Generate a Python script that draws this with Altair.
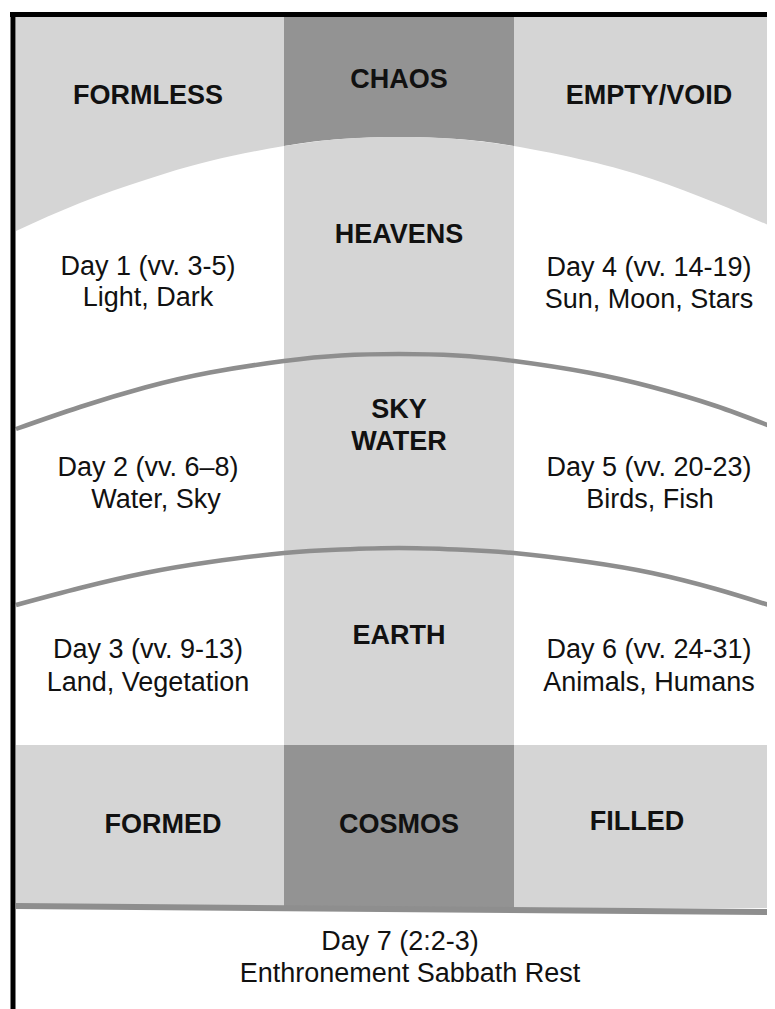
import altair as alt
import pandas as pd

# ---- data (pixel coordinates of the 775x1009 image) ----
ARC_X  = [16, 80, 145, 210, 284, 341, 399, 457, 514, 588, 652, 716, 775]
ARC1_Y = [231, 203, 180, 161, 146, 139, 137, 139, 146, 161, 179, 203, 228]
ARC2_Y = [429, 407, 387.5, 372.5, 361, 355.5, 354, 355.5, 361, 372.5, 387, 406, 428]
ARC3_Y = [605, 588, 573, 562, 553, 549.5, 548, 549.5, 553, 562, 573, 589, 607]

LIGHT = "#d5d5d5"
DARK = "#939393"
LINE = "#8e8e8e"

# blocks: x1, x2, y1, y2, colour
BLK_X1 = [16, 284, 16, 284]
BLK_X2 = [775, 514, 775, 514]
BLK_Y1 = [17, 17, 745, 745]
BLK_Y2 = [745, 200, 908, 908]
BLK_C = [LIGHT, DARK, LIGHT, DARK]

BOLD_LABELS = ["CHAOS", "FORMLESS", "EMPTY/VOID", "HEAVENS", "SKY", "WATER", "EARTH",
               "FORMED", "COSMOS", "FILLED"]
BOLD_X = [399, 148, 649, 399, 399, 399, 399, 163, 399, 637]
BOLD_Y = [78, 94, 94, 233, 408, 440, 634, 823, 823, 820]

REG_LABELS = ["Day 1 (vv. 3-5)", "Light, Dark", "Day 4 (vv. 14-19)", "Sun, Moon, Stars",
              "Day 2 (vv. 6\u20138)", "Water, Sky", "Day 5 (vv. 20-23)", "Birds, Fish",
              "Day 3 (vv. 9-13)", "Land, Vegetation", "Day 6 (vv. 24-31)", "Animals, Humans",
              "Day 7 (2:2-3)", "Enthronement Sabbath Rest"]
REG_X = [148, 148, 649, 649, 148, 156, 649, 650, 148, 148, 649, 649, 400, 410]
REG_Y = [265, 296, 266, 298, 466, 498, 466, 498, 648, 681, 648, 681, 940, 972]

# frame & bottom strip segments: x1, y1, x2, y2
SEG_X1 = [16, 13, 10]
SEG_Y1 = [906, 12, 14.5]
SEG_X2 = [775, 13, 775]
SEG_Y2 = [912, 1009, 14.5]
SEG_C = [LINE, "#000000", "#000000"]
SEG_W = [6, 5, 5]

# ---- build tables ----
xs = alt.Scale(domain=[8, 767], nice=False, zero=False)
ys = alt.Scale(domain=[8, 1009], reverse=True, nice=False, zero=False)

arcs = pd.DataFrame({"x": ARC_X, "a1": ARC1_Y, "a2": ARC2_Y, "a3": ARC3_Y, "bottom": 745})
col_arc = arcs[(arcs.x >= 284) & (arcs.x <= 514)]
blocks = pd.DataFrame({"x1": BLK_X1, "x2": BLK_X2, "y1": BLK_Y1, "y2": BLK_Y2, "c": BLK_C})
bold = pd.DataFrame({"t": BOLD_LABELS, "x": BOLD_X, "y": [v + 10 for v in BOLD_Y]})
reg = pd.DataFrame({"t": REG_LABELS, "x": REG_X, "y": [v + 10 for v in REG_Y]})
segs = pd.DataFrame({"x1": SEG_X1, "y1": SEG_Y1, "x2": SEG_X2, "y2": SEG_Y2, "c": SEG_C, "w": SEG_W})

X = lambda f: alt.X(f, type="quantitative", scale=xs, axis=None)
Y = lambda f: alt.Y(f, type="quantitative", scale=ys, axis=None)

top_blocks = alt.Chart(blocks.iloc[:2]).mark_rect(clip=True).encode(
    x=X("x1"), x2="x2", y=Y("y1"), y2="y2", color=alt.Color("c:N", scale=None))
white_area = alt.Chart(arcs).mark_area(color="white", interpolate="natural", clip=True).encode(
    x=X("x"), y=Y("a1"), y2="bottom")
col_area = alt.Chart(col_arc).mark_area(color=LIGHT, interpolate="natural", clip=True).encode(
    x=X("x"), y=Y("a1"), y2="bottom")
bot_blocks = alt.Chart(blocks.iloc[2:]).mark_rect(clip=True).encode(
    x=X("x1"), x2="x2", y=Y("y1"), y2="y2", color=alt.Color("c:N", scale=None))
arc2 = alt.Chart(arcs).mark_line(color=LINE, strokeWidth=4.5, interpolate="natural", clip=True).encode(
    x=X("x"), y=Y("a2"))
arc3 = alt.Chart(arcs).mark_line(color=LINE, strokeWidth=4.5, interpolate="natural", clip=True).encode(
    x=X("x"), y=Y("a3"))
seg = alt.Chart(segs).mark_rule(clip=True).encode(
    x=X("x1"), y=Y("y1"), x2="x2", y2="y2",
    color=alt.Color("c:N", scale=None), strokeWidth=alt.StrokeWidth("w:Q", scale=None))
bold_txt = alt.Chart(bold).mark_text(font="Liberation Sans", fontSize=27, fontWeight="bold",
                                     align="center", baseline="alphabetic", color="#111111").encode(
    x=X("x"), y=Y("y"), text="t:N")
reg_txt = alt.Chart(reg).mark_text(font="Liberation Sans", fontSize=27, fontWeight="normal",
                                   align="center", baseline="alphabetic", color="#111111").encode(
    x=X("x"), y=Y("y"), text="t:N")

chart = alt.layer(top_blocks, white_area, col_area, bot_blocks, arc2, arc3, seg,
                  bold_txt, reg_txt).properties(
    width=759, height=1001, padding=0,
    autosize=alt.AutoSizeParams(type="none"),
    background="white",
).configure_view(stroke=None)

chart.save("out.html", embed_options={"renderer": "svg", "actions": False})
